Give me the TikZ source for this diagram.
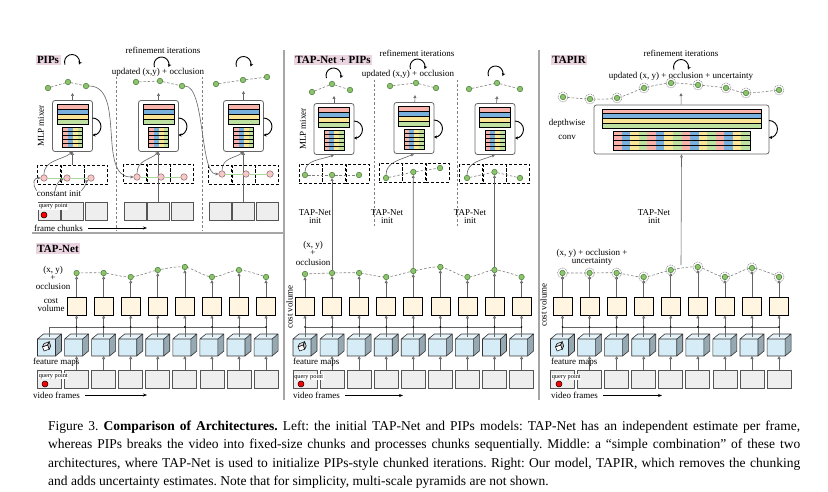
\documentclass[tikz,border=0pt]{standalone}
\usepackage{fontspec}
\setmainfont{Liberation Serif}
\usetikzlibrary{arrows.meta,backgrounds}
\definecolor{tpink}{RGB}{234,212,224}
\definecolor{spink}{RGB}{247,178,172}
\definecolor{sblue}{RGB}{122,176,222}
\definecolor{syellow}{RGB}{250,228,150}
\definecolor{sgreen}{RGB}{190,224,160}
\definecolor{cvfill}{RGB}{255,245,224}
\definecolor{cfront}{RGB}{214,237,247}
\definecolor{ctop}{RGB}{230,244,250}
\definecolor{cside}{RGB}{150,168,178}
\definecolor{frfill}{RGB}{238,238,238}
\definecolor{frb}{RGB}{85,85,85}
\definecolor{dgreen}{RGB}{140,196,110}
\definecolor{dgreenb}{RGB}{70,120,50}
\definecolor{dpink}{RGB}{246,200,200}
\definecolor{dpinkb}{RGB}{140,100,100}
\definecolor{lgreen}{RGB}{168,214,150}
\definecolor{cgray}{RGB}{100,100,100}
\tikzset{
 lab/.style={font=\fontsize{9}{8}\selectfont, inner sep=0pt, align=center},
 ttl/.style={font=\fontsize{11}{11}\selectfont\bfseries, fill=tpink, inner sep=1.5pt},
 qlab/.style={font=\fontsize{6.3}{6.3}\selectfont, fill=white, inner sep=0.6pt, anchor=west},
 gdot/.style={circle, fill=dgreen, draw=dgreenb, line width=0.5pt, minimum size=5.5pt, inner sep=0pt},
 tdot/.style={gdot, label={[circle, draw=gray, dash pattern=on 1pt off 0.8pt, line width=0.5pt, minimum size=10pt, inner sep=0pt]center:}},
 pdot/.style={circle, fill=dpink, draw=dpinkb, line width=0.5pt, minimum size=6.5pt, inner sep=0pt},
 qdot/.style={circle, fill=red, draw=black, line width=0.5pt, minimum size=6pt, inner sep=0pt},
 cvbox/.style={draw=black, fill=cvfill, line width=0.6pt, minimum width=19pt, minimum height=18pt, inner sep=0pt},
 frbox/.style={draw=frb, fill=frfill, line width=0.8pt, minimum width=24pt, minimum height=18pt, inner sep=0pt},
 frboxs/.style={frbox, minimum width=22pt},
 chbox/.style={draw=black, dash pattern=on 3pt off 2pt, line width=0.9pt, minimum width=23pt, minimum height=19pt, inner sep=0pt},
 mlpframe/.style={draw=gray!80!black, fill=white, rounded corners=2.5pt, line width=0.8pt, minimum width=40pt, minimum height=51pt, inner sep=0pt},
 conn/.style={draw=cgray, line width=0.6pt, -{Triangle[open, length=3pt, width=3pt]}},
 pinkline/.style={draw=lgreen, line width=0.8pt},
 loopar/.style={draw=black, line width=0.9pt, -{Stealth[length=3.2pt, width=3.4pt]}},
 dline/.style={draw=gray, line width=0.6pt, dash pattern=on 2.5pt off 1.8pt},
 sep/.style={draw=gray!70, line width=1.2pt},
 vdash/.style={draw=gray, line width=0.6pt, dash pattern=on 2.5pt off 2pt},
 timear/.style={draw=black, line width=0.6pt, -{Stealth[length=4pt, width=3pt]}},
 qline/.style={draw=cgray, line width=0.6pt},
 pics/fmcube/.style={code={
   \fill[cfront] (-12,-17) rectangle (6,0);
   \fill[ctop] (-12,-17) -- (-6,-22) -- (12,-22) -- (6,-17) -- cycle;
   \fill[cside] (6,-17) -- (12,-22) -- (12,-5) -- (6,0) -- cycle;
   \draw[line width=0.6pt, black!80] (-12,0) rectangle (6,-17) (-12,-17) -- (-6,-22) -- (12,-22) -- (12,-5) -- (6,0) (6,-17) -- (12,-22);
   \coordinate (-top) at (0,-19.5);
   \coordinate (-bot) at (0,0);
 }},
 pics/mlp/.style={code={
   \node[mlpframe] (-box) at (0,0) {};
   \foreach \cc [count=\k from 0] in {spink,sblue,syellow,sgreen}
     \fill[\cc] (-15.5,{-21.5+5*\k}) rectangle (15.5,{-16.5+5*\k});
   \foreach \k in {1,2,3} \draw[line width=0.6pt] (-15.5,{-21.5+5*\k}) -- (15.5,{-21.5+5*\k});
   \draw[line width=0.6pt] (-15.5,-21.5) rectangle (15.5,-1.5);
   \foreach \cc [count=\k from 0] in {spink,sblue,syellow,sgreen}
     \fill[\cc] ({-10+5*\k},1.5) rectangle ({-5+5*\k},21.5);
   \foreach \k in {1,...,4} \draw[line width=0.5pt] (-10,{1.5+4*\k}) -- (10,{1.5+4*\k});
   \draw[line width=0.6pt] (-10,1.5) rectangle (10,21.5);
   \draw[loopar] (20,-8) arc[start angle=-90, end angle=90, radius=8.5];
 }}
}
\newcommand{\btmpanel}[5]{%
  \foreach \yy [count=\i from 0] in {#4}{%
    \pgfmathsetmacro{\xx}{#2+27.07*\i}
    \node[frbox] (#1f\i) at (\xx,379) {};
    \pic (#1c\i) at (\xx,356) {fmcube};
    \coordinate (#1q\i) at (\xx,327);
    \ifnum\i>0\relax \draw[conn] (#1f\i) -- (#1c\i-bot);\fi
    \ifnum\i<#3\relax\else
      \node[cvbox] (#1v\i) at (\xx,306) {};
      \node[#5] (#1d\i) at (\xx,\yy) {};
      \draw[conn] (#1c\i-top) -- (#1v\i);
      \draw[conn] (#1v\i) -- (#1d\i);
    \fi
  }%
  \draw[qline] (#1q0) -- (#1q8);
  \foreach \i in {#3,...,8} {\fill[black] (#1q\i) circle[radius=0.9pt];}%
}
\newcommand{\qicon}[1]{%
  \begin{scope}[shift={(#1)}, rotate around={20:(-3,-8.5)}]
    \filldraw[fill=white, draw=black, line width=0.5pt] (-6.5,-6) rectangle (-1,-10.5);
    \filldraw[fill=gray!25, draw=black, line width=0.5pt] (-6.5,-10.5) -- (-4,-13) -- (1.5,-13) -- (-1,-10.5) -- cycle;
    \filldraw[fill=gray!55, draw=black, line width=0.5pt] (-1,-10.5) -- (1.5,-13) -- (1.5,-8.5) -- (-1,-6) -- cycle;
  \end{scope}}
\newcommand{\refarc}[2]{\draw[loopar] ([shift={(160:7.5)}]#1,#2) arc[start angle=160, end angle=380, radius=7.5];}
\begin{document}
\begin{tikzpicture}[x=1pt,y=-1pt]
\useasboundingbox (0,0) rectangle (828,492);
\begin{scope}[on background layer]
  \fill[white] (0,0) rectangle (828,492);
\end{scope}
% separators
\draw[sep] (284,50) -- (284,400);
\draw[sep] (539,50) -- (539,400);
\draw[sep] (32,233) -- (284,233);

% ================= PIPs =================
\node[ttl] (tP) at (48,60) {PIPs};
\refarc{72}{62}
\node[lab] (riP) at (163,50) {refinement iterations};
\refarc{161.5}{64.5}
\node[lab] (upP) at (158,72) {updated (x,y) + occlusion};
\refarc{243.5}{64}
\draw[vdash] (116,77) -- (116,231);
\draw[vdash] (202,77) -- (202,231);

% chunk 1
\pic (P1) at (72.5,126) {mlp};
\node[lab, rotate=90] (P1ml) at (41,126) {MLP mixer};
\node[gdot] (P1g1) at (48,88) {};
\node[gdot] (P1g2) at (68,82) {};
\node[gdot] (P1g3) at (86,86) {};
\draw[dline] (P1g1) -- (P1g2) -- (P1g3);
\coordinate (P1o) at (72.5,93);
\draw[conn] (P1-box) -- (P1o);
\node[chbox] (P1b1) at (49,175) {};
\node[chbox] (P1b2) at (72.5,175) {};
\node[chbox] (P1b3) at (96,175) {};
\draw[conn] (P1b2.north) -- (P1-box.south);
\node[pdot] (P1p1) at (44,178) {};
\node[pdot] (P1p2) at (67,178) {};
\node[pdot] (P1p3) at (91,178) {};
\draw[pinkline] (P1p1) -- (P1p2) -- (P1p3);
\draw[conn] (P1p1) .. controls (44,160) and (62,160) .. (P1-box.south);
\node[frboxs] (P1f1) at (49,211) {};
\node[frboxs] (P1f2) at (72.5,211) {};
\node[frboxs] (P1f3) at (96,211) {};
\node[qlab] (P1ql) at (38,206.5) {query point};
\node[qdot] (P1qd) at (44,215) {};
\node[lab] (ci) at (59,194) {constant init};
\draw[conn] (ci.north west) .. controls (31,182) and (35,178) .. (P1p1);
\draw[conn] ([xshift=-4pt]ci.north) .. controls (56,184) and (60,180) .. (P1p2);
\draw[conn] (ci.north east) .. controls (86,186) and (87,181) .. (P1p3);
\node[lab, anchor=west] (fc) at (34,228) {frame chunks};
\coordinate (fcE) at (147,228);
\draw[timear] ([xshift=5pt]fc.east) -- (fcE);

% chunk 2
\pic (P2) at (158.5,126) {mlp};
\node[gdot] (P2g1) at (136,82) {};
\node[gdot] (P2g2) at (160,81) {};
\node[gdot] (P2g3) at (182,86) {};
\draw[dline] (P2g1) -- (P2g2) -- (P2g3);
\coordinate (P2o) at (158.5,93);
\draw[conn] (P2-box) -- (P2o);
\node[chbox] (P2b1) at (135,174) {};
\node[chbox] (P2b2) at (158.5,174) {};
\node[chbox] (P2b3) at (182,174) {};
\node[frboxs] (P2f1) at (135,211) {};
\node[frboxs] (P2f2) at (158.5,211) {};
\node[frboxs] (P2f3) at (182,211) {};
\draw[conn] (P2f2) -- (P2-box.south);
\node[pdot] (P2p1) at (137,177) {};
\node[pdot] (P2p2) at (161,177) {};
\node[pdot] (P2p3) at (184,177) {};
\draw[pinkline] (P2p1) -- (P2p2) -- (P2p3);
\draw[conn] (P2p1) .. controls (137,160) and (150,160) .. (P2-box.south);
\draw[conn] (P1g3) .. controls (126,86) and (97,177) .. (P2p1);

% chunk 3
\pic (P3) at (243.5,126) {mlp};
\node[gdot] (P3g1) at (216,84) {};
\node[gdot] (P3g2) at (243,80) {};
\node[gdot] (P3g3) at (267,77) {};
\draw[dline] (P3g1) -- (P3g2) -- (P3g3);
\coordinate (P3o) at (243.5,91);
\draw[conn] (P3-box) -- (P3o);
\node[chbox] (P3b1) at (220,175) {};
\node[chbox] (P3b2) at (243.5,175) {};
\node[chbox] (P3b3) at (267,175) {};
\node[frboxs] (P3f1) at (220,211) {};
\node[frboxs] (P3f2) at (243.5,211) {};
\node[frboxs] (P3f3) at (267,211) {};
\draw[conn] (P3f2) -- (P3-box.south);
\node[pdot] (P3p1) at (222,174) {};
\node[pdot] (P3p2) at (246,174) {};
\node[pdot] (P3p3) at (270,174) {};
\draw[pinkline] (P3p1) -- (P3p2) -- (P3p3);
\draw[conn] (P3p1) .. controls (222,158) and (235,158) .. (P3-box.south);
\draw[conn] (P2g3) .. controls (205,86) and (200,174) .. (P3p1);

% ================= TAP-Net (left bottom) =================
\node[ttl] (tT) at (58,248.5) {TAP-Net};
\node[lab] (Lxy) at (53,270) {(x, y)};
\node[lab] (Lpl) at (53,278) {+};
\node[lab] (Loc) at (53,286) {occlusion};
\node[lab] (Lcv) at (51,301) {cost};
\node[lab] (Lcv2) at (51,308.5) {volume};
\btmpanel{L}{49.5}{1}{0,273,273,277,270,267,277,270,277}{gdot}
\draw[qline] (Lc0-top) -- (Lq0);
\qicon{Lc0-bot}
\node[lab, anchor=west] (Lfm) at (33,362.5) {feature maps};
\node[qlab] (Lql) at (38,376) {query point};
\node[qdot] (Lqd) at (45,384) {};
\node[lab, anchor=west] (Lvf) at (33,395) {video frames};
\coordinate (LvfE) at (147,395);
\draw[timear] ([xshift=5pt]Lvf.east) -- (LvfE);
\begin{scope}[on background layer]
  \draw[dline] plot[smooth] coordinates {(Ld1) (Ld2) (Ld3) (Ld4) (Ld5) (Ld6) (Ld7) (Ld8)};
\end{scope}

% ================= TAP-Net + PIPs =================
\node[ttl] (tM) at (333,60) {TAP-Net + PIPs};
\node[lab] (riM) at (417,53) {refinement iterations};
\node[lab] (upM) at (408,74) {updated (x,y) + occlusion};
\refarc{333.5}{75.5}
\refarc{417.5}{66.5}
\refarc{495.5}{73.5}
\draw[vdash] (374,80) -- (374,228);
\draw[vdash] (457,80) -- (457,228);

\btmpanel{M}{305}{0}{274,273,273,277,271,267,277,270,277}{gdot}
\qicon{Mc0-bot}
\node[lab] (Mxy) at (313,245) {(x, y)};
\node[lab] (Mpl) at (313,253) {+};
\node[lab] (Moc) at (313,262) {occlusion};
\node[lab, rotate=90] (Mcvl) at (289.5,307) {cost volume};
\node[lab, anchor=west] (Mfm) at (293,362.5) {feature maps};
\node[qlab] (Mql) at (293.5,377) {query point};
\node[qdot] (Mqd) at (301,384) {};
\node[lab, anchor=west] (Mvf) at (293,395.5) {video frames};
\coordinate (MvfE) at (403,395.5);
\draw[timear] ([xshift=5pt]Mvf.east) -- (MvfE);
\begin{scope}[on background layer]
  \draw[dline] plot[smooth] coordinates {(Md0) (Md1) (Md2) (Md3) (Md4) (Md5) (Md6) (Md7) (Md8)};
\end{scope}

% chunk 1
\pic (M1) at (334,129) {mlp};
\node[lab, rotate=90] (M1ml) at (303,129) {MLP mixer};
\node[gdot] (M1g1) at (312,92) {};
\node[gdot] (M1g2) at (332,84) {};
\node[gdot] (M1g3) at (350,90) {};
\draw[dline] (M1g1) -- (M1g2) -- (M1g3);
\coordinate (M1o) at (334,96);
\draw[conn] (M1-box) -- (M1o);
\node[chbox] (M1b1) at (310.5,174) {};
\node[chbox] (M1b2) at (334,174) {};
\node[chbox] (M1b3) at (357.5,174) {};
\node[gdot] (M1d1) at (305,175) {};
\node[gdot] (M1d2) at (332.07,175) {};
\node[gdot] (M1d3) at (359,175) {};
\draw[dline] (M1d1) -- (M1d2) -- (M1d3);
\draw[conn] (M1d1) .. controls (305,160) and (320,160) .. (M1-box.south);
\draw[conn] (Md1) -- (M1d2);
\node[lab] (M1ti) at (315,217) {TAP-Net\\init};

% chunk 2
\pic (M2) at (414,128) {mlp};
\node[gdot] (M2g1) at (390,86) {};
\node[gdot] (M2g2) at (416,83) {};
\node[gdot] (M2g3) at (436,88) {};
\draw[dline] (M2g1) -- (M2g2) -- (M2g3);
\coordinate (M2o) at (415,95);
\draw[conn] (M2-box) -- (M2o);
\node[chbox] (M2b1) at (390.5,173) {};
\node[chbox] (M2b2) at (414,173) {};
\node[chbox] (M2b3) at (437.5,173) {};
\node[gdot] (M2d1) at (386,178) {};
\node[gdot] (M2d2) at (413.28,172) {};
\node[gdot] (M2d3) at (440,168) {};
\draw[dline] (M2d1) -- (M2d2) -- (M2d3);
\draw[conn] (M2d1) .. controls (386,162) and (400,160) .. (M2-box.south);
\draw[conn] (Md4) -- (M2d2);
\node[lab] (M2ti) at (387,217) {TAP-Net\\init};

% chunk 3
\pic (M3) at (495,129) {mlp};
\node[gdot] (M3g1) at (469,89) {};
\node[gdot] (M3g2) at (497,83) {};
\node[gdot] (M3g3) at (520,89) {};
\draw[dline] (M3g1) -- (M3g2) -- (M3g3);
\coordinate (M3o) at (497,96);
\draw[conn] (M3-box) -- (M3o);
\node[chbox] (M3b1) at (471,174) {};
\node[chbox] (M3b2) at (494.5,174) {};
\node[chbox] (M3b3) at (518,174) {};
\node[gdot] (M3d1) at (467,178) {};
\node[gdot] (M3d2) at (494.49,172) {};
\node[gdot] (M3d3) at (520,178) {};
\draw[dline] (M3d1) -- (M3d2) -- (M3d3);
\draw[conn] (M3d1) .. controls (467,162) and (482,160) .. (M3-box.south);
\draw[conn] (Md7) -- (M3d2);
\node[lab] (M3ti) at (470,217) {TAP-Net\\init};

% ================= TAPIR =================
\node[ttl] (tR) at (569,60) {TAPIR};
\node[lab] (riR) at (681,53) {refinement iterations};
\refarc{681}{67}
\node[lab] (upR) at (681,76) {updated (x, y) + occlusion + uncertainty};
\node[tdot] (Tt1) at (563,97) {};
\node[tdot] (Tt2) at (590,99) {};
\node[tdot] (Tt3) at (617,98) {};
\node[tdot] (Tt4) at (644,88) {};
\node[tdot] (Tt5) at (671,83) {};
\node[tdot] (Tt6) at (698,85) {};
\node[tdot] (Tt7) at (726,88) {};
\node[tdot] (Tt8) at (746,93) {};
\node[tdot] (Tt9) at (779,90) {};
\begin{scope}[on background layer]
  \draw[dline] plot[smooth] coordinates {(Tt1) (Tt2) (Tt3) (Tt4) (Tt5) (Tt6) (Tt7) (Tt8) (Tt9)};
\end{scope}
\node[mlpframe, minimum width=175pt, minimum height=49pt] (Tbox) at (681.5,129.5) {};
\foreach \cc [count=\k from 0] in {spink,sblue,syellow,sgreen}
  \fill[\cc] (602,{109+4.75*\k}) rectangle (761,{113.75+4.75*\k});
\foreach \k in {1,2,3} \draw[line width=0.6pt] (602,{109+4.75*\k}) -- (761,{109+4.75*\k});
\draw[line width=0.6pt] (602,109) rectangle (761,128);
\foreach \g in {0,...,3}
  \foreach \cc [count=\k from 0] in {spink,sblue,syellow,sgreen}
    \fill[\cc] ({613+34.25*\g+8.5625*\k},131) rectangle ({613+34.25*\g+8.5625*(\k+1)},150);
\foreach \k in {1,2,3} \draw[line width=0.5pt] (613,{131+4.75*\k}) -- (750,{131+4.75*\k});
\draw[line width=0.6pt] (613,131) rectangle (750,150);
\draw[loopar] (769,120.5) arc[start angle=-90, end angle=90, radius=8.5];
\coordinate (To) at (681,93);
\draw[conn] (Tbox) -- (To);
\node[lab] (Tdw) at (567,123) {depthwise};
\node[lab] (Tcv) at (567,137) {conv};
\node[lab] (Tti) at (654,217) {TAP-Net\\init};
\coordinate (Tin) at (681,265);
\draw[conn] (Tin) -- (Tbox.south);

\btmpanel{R}{562.5}{0}{273,273,273,277,270,267,277,268,277}{tdot}
\qicon{Rc0-bot}
\node[lab] (Rxy) at (592,253) {(x, y) + occlusion +};
\node[lab] (Run) at (592,261) {uncertainty};
\node[lab, rotate=90] (Rcvl) at (543.5,305) {cost volume};
\node[lab, anchor=west] (Rfm) at (551,362.5) {feature maps};
\node[qlab] (Rql) at (551,377) {query point};
\node[qdot] (Rqd) at (559,384) {};
\node[lab, anchor=west] (Rvf) at (551,395.5) {video frames};
\coordinate (RvfE) at (662,395.5);
\draw[timear] ([xshift=5pt]Rvf.east) -- (RvfE);
\begin{scope}[on background layer]
  \draw[dline] plot[smooth] coordinates {(Rd0) (Rd1) (Rd2) (Rd3) (Rd4) (Rd5) (Rd6) (Rd7) (Rd8)};
\end{scope}

% ================= caption =================
\node[anchor=north west, text width=752pt, align=justify, inner sep=0pt,
      font={\fontsize{13.5}{18.5}\selectfont}] (cap) at (48,420.5)
 {\hyphenpenalty 10000 \exhyphenpenalty 10000 \frenchspacing Figure 3. \textbf{Comparison of Architectures.} Left: the initial TAP-Net and PIPs models: TAP-Net has an independent estimate per frame,\linebreak
 whereas PIPs breaks the video into fixed-size chunks and processes chunks sequentially. Middle: a “simple combination” of these two\linebreak
 architectures, where TAP-Net is used to initialize PIPs-style chunked iterations. Right: Our model, TAPIR, which removes the chunking\linebreak
 and adds uncertainty estimates. Note that for simplicity, multi-scale pyramids are not shown.};
\end{tikzpicture}
\end{document}
